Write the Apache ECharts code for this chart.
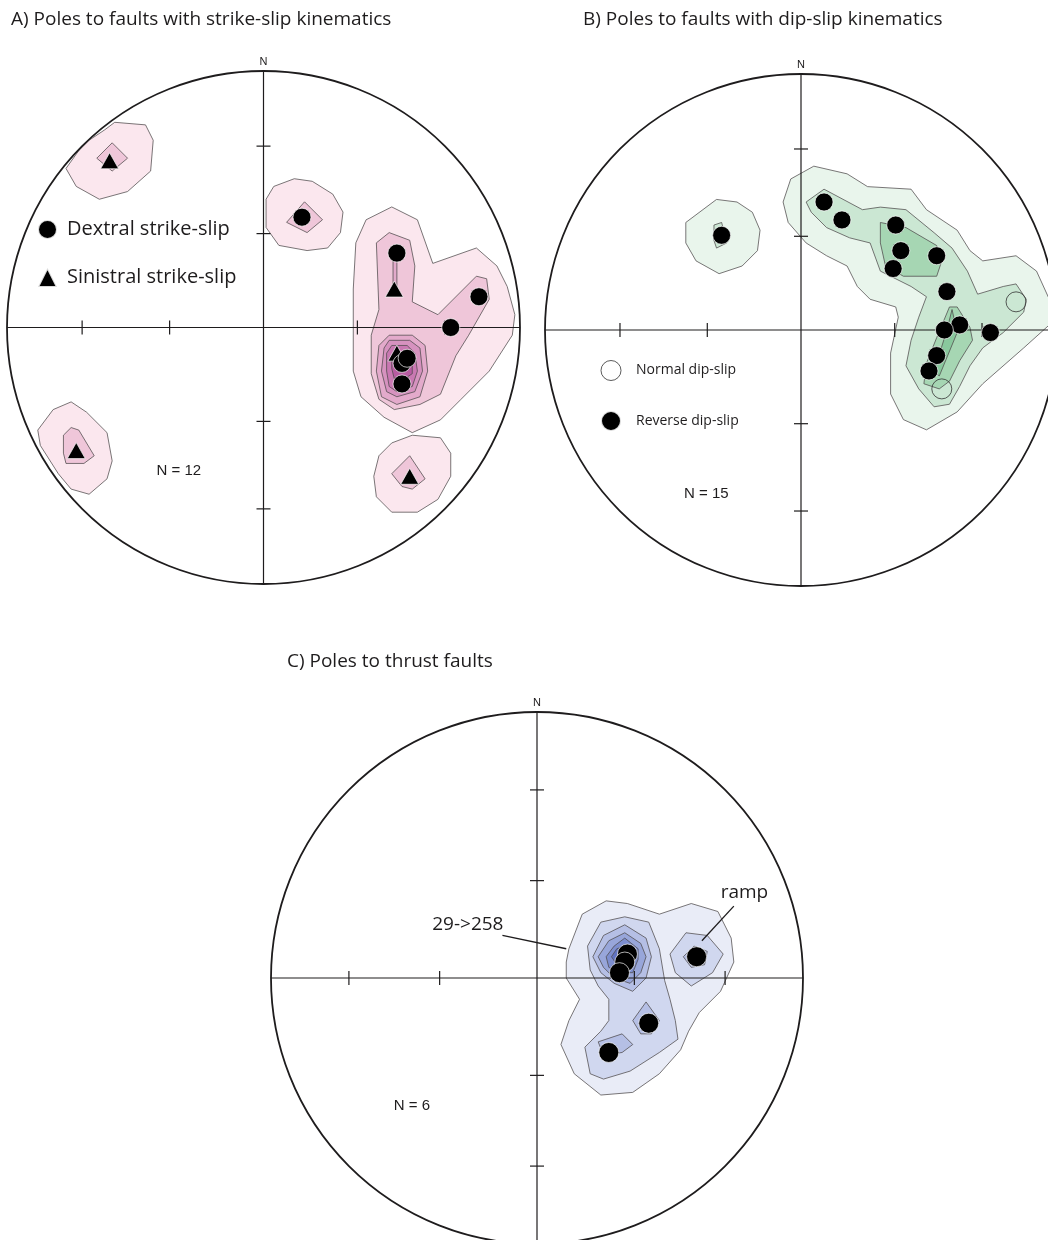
<!DOCTYPE html>
<html>
<head>
<meta charset="utf-8">
<title>Fault pole stereonets</title>
<script src="https://cdn.jsdelivr.net/npm/echarts@6.0.0/dist/echarts.min.js"></script>
<style>
  html, body { margin: 0; padding: 0; background: #ffffff; }
  #chart { width: 1048px; height: 1240px; }
</style>
</head>
<body>
<div id="chart"></div>
<script>
// Equal-area (Schmidt) lower-hemisphere nets. Every position is in net units:
// the primitive circle has radius 100, x to the east, y to the north.
const NET_R = 100;

// Plunges marked by ticks along the N-S and E-W diameters
const tickPlunges = [30, 60];

// ---- A) poles to strike-slip faults ----
const dextralA = [[15, 43], [52, 29], [84, 12], [73, 0], [54, -14], [56, -12], [54, -22]];
const sinistralA = [[-60, 65], [51, 15], [52, -10], [-73, -48], [57, -58]];

// density contours: [level, outline]
const contoursA = [
  [1, [[36,33],[40,42],[50,47],[60,42],[66,25],[83,31],[91,24],[95,16],[98,5],[97,-3],[88,-17],[77,-28],[69,-36],[58,-41],[47,-35],[38,-27],[35,-17],[35,-1],[35,15]]],
  [1, [[-58,80],[-46,79],[-43,73],[-44,61],[-53,53],[-64,50],[-73,55],[-77,62],[-72,69],[-68,73],[-62,77]]],
  [1, [[1,50],[4,55],[12,58],[19,57],[27,52],[31,45],[30,37],[25,31],[17,30],[6,32],[1,39]]],
  [1, [[-88,-40],[-82,-32],[-75,-29],[-69,-33],[-61,-41],[-59,-52],[-61,-59],[-68,-65],[-75,-63],[-80,-57],[-87,-46]]],
  [1, [[43,-58],[45,-50],[50,-45],[58,-42],[69,-43],[73,-49],[73,-58],[68,-67],[60,-72],[50,-72],[44,-66]]],
  [2, [[49,37],[57,34],[59,24],[58,10],[68,5],[83,20],[87,19],[88,11],[80,-3],[75,-11],[69,-26],[61,-30],[51,-32],[45,-28],[42,-18],[42,-3],[45,7],[44,33]]],
  [2, [[-65,66],[-59,72],[-53,66],[-59,61]]],
  [2, [[9,41],[16,49],[23,42],[17,37]]],
  [2, [[-78,-42],[-75,-39],[-72,-40],[-66,-50],[-70,-53],[-77,-53],[-78,-49]]],
  [2, [[50,-57],[57,-50],[63,-59],[58,-63],[54,-62]]],
  [3, [[50.5,27],[52,27],[52,15],[50.5,15]]],
  [3, [[49,-3],[58,-3],[63,-7],[64,-17],[61,-27],[52,-30],[46,-27],[44,-17],[45,-7]]],
  [4, [[49,-5],[57,-5],[61,-8],[62,-17],[59,-25],[52,-27],[48,-25],[46,-17],[47,-8]]],
  [5, [[50,-7],[56,-7],[59,-10],[60,-17],[58,-23],[52,-25],[49,-23],[48,-17],[48,-10]]],
  [6, [[51,-10],[56,-10],[58,-13],[58,-18],[55,-20],[51,-20],[50,-16],[50,-12]]]
];

// ---- B) poles to dip-slip faults ----
const reverseB = [[9,50],[16,43],[37,41],[39,31],[36,24],[53,29],[57,15],[62,2],[56,0],[74,-1],[53,-10],[50,-16],[-31,37]];
const normalB = [[84,11],[55,-23]];

const contoursB = [
  [1, [[-7,50],[-4,59],[5,64],[18,61],[26,56],[43,55],[49,47],[61,39],[66,31],[71,27],[84,29],[92,23],[97,12],[97,2],[87,-7],[71,-21],[61,-32],[49,-39],[40,-35],[35,-25],[35,-9],[38,5],[37,9],[27,12],[22,17],[18,25],[10,29],[2,34],[-5,42]]],
  [1, [[-45,42],[-33,51],[-25,50],[-19,46],[-16,39],[-17,31],[-23,25],[-32,22],[-41,27],[-45,34]]],
  [2, [[2,50],[9,55],[24,47],[31,48],[41,47],[52,38],[59,32],[65,23],[69,14],[79,17],[84,18],[88,12],[87,7],[79,-1],[71,-7],[66,-14],[62,-22],[58,-29],[52,-30],[46,-23],[41,-14],[43,-4],[46,5],[49,13],[43,17],[37,20],[31,23],[27,34],[19,36],[10,40],[4,46]]],
  [2, [[-34,41],[-31,42],[-29,34],[-33,32],[-34,35]]],
  [3, [[31,42],[41,40],[53,33],[55,27],[53,21],[40,21],[33,25],[31,34]]],
  [3, [[58,9],[61,9],[66,1],[67,-4],[62,-12],[58,-20],[54,-23],[48,-21],[49,-13],[53,-3]]],
  [4, [[59,8],[61,-1],[54,-18],[52,-16],[57,0]]]
];

// ---- C) poles to thrust faults ----
const thrustC = [[34,9],[33,6],[31,2],[60,8],[42,-17],[27,-28]];

const contoursC = [
  [1, [[12,11],[17,24],[26,29],[34,28],[46,24],[58,28],[68,25],[73,15],[74,6],[69,-5],[61,-13],[57,-20],[54,-27],[46,-36],[36,-43],[24,-44],[14,-36],[9,-25],[12,-16],[16,-8],[11,0],[11,6]]],
  [2, [[19,12],[24,21],[33,23],[42,21],[46,11],[48,-1],[50,-8],[52,-16],[53,-23],[46,-28],[35,-35],[25,-38],[20,-36],[18,-26],[24,-20],[27,-16],[27,-8],[23,-3],[20,3]]],
  [2, [[50,9],[56,17],[64,16],[70,9],[66,2],[58,-3],[52,2]]],
  [3, [[21,8],[25,16],[33,20],[41,15],[43,8],[41,0],[36,-5],[29,-2],[24,2]]],
  [3, [[55,8],[59,12],[64,10],[63,5],[58,4]]],
  [3, [[36,-16],[41,-9],[46,-16],[43,-21],[39,-21]]],
  [3, [[23,-24],[32,-21],[36,-25],[32,-28],[25,-29]]],
  [4, [[23,8],[27,14],[33,17],[39,13],[41,8],[39,2],[35,-2],[29,0],[25,4]]],
  [5, [[26,8],[29,12],[33,15],[38,11],[38,7],[36,2],[31,2],[27,4]]],
  [6, [[28,8],[30,11],[33,12],[36,10],[36,6],[34,4],[30,5]]]
];

// annotations on net C
const notesC = [['29->258', [-26, 20]], ['ramp', [78, 32]]];
const leadersC = [[[-13, 16], [11, 11]], [[74, 27], [62, 14]]];

const countLabels = ['N = 12', 'N = 15', 'N = 6'];
const countPositions = [[-33, -56], [-37, -64], [-47, -48]];

const titles = ['A) Poles to faults with strike-slip kinematics',
                'B) Poles to faults with dip-slip kinematics',
                'C) Poles to thrust faults'];

// contour fill ramps, lowest level first
const pinkLevels  = ['#fbe7ee', '#efc6d9', '#e3aacb', '#d692bf', '#c978b2', '#b85ca2'];
const greenLevels = ['#e9f5ec', '#cbe7d3', '#a6d6b3', '#89c89d'];
const blueLevels  = ['#e9ecf7', '#d0d7ef', '#b5bfe5', '#98a6da', '#7d8ecf', '#6173c2'];

const INK = '#1e1c1d';
const UI_FONT = '"Open Sans", "Noto Sans", sans-serif';
const SMALL_FONT = '"Liberation Sans", Arial, sans-serif';

// radial distance of a pole on the equal-area net
const eqArea = p => NET_R * Math.SQRT2 * Math.sin((90 - p) / 2 * Math.PI / 180);

// B runs off the right edge of the page and C off the bottom edge, so their
// grids stop at the page and the axis extent is trimmed to keep the scale.
const grids = [
  { left: 7,   top: 71,  width: 513, height: 513 },
  { left: 545, top: 74,  width: 503, height: 512 },
  { left: 271, top: 712, width: 532, height: 528 }
];
const xRanges = [[-100, 100], [-100, -100 + 503 / 2.56], [-100, 100]];
const yRanges = [[-100, 100], [-100, 100], [100 - 528 / 2.66, 100]];

function contourSeries(idx, polys, colors) {
  return {
    type: 'custom', name: 'contours' + idx,
    xAxisIndex: idx, yAxisIndex: idx,
    z: 2, silent: true, animation: false, clip: false,
    data: polys.map((p, i) => [p[1][0][0], p[1][0][1], i]),
    renderItem: (params, api) => {
      const poly = polys[params.dataIndex];
      return {
        type: 'polygon',
        shape: { points: poly[1].map(pt => api.coord(pt)) },
        style: { fill: colors[poly[0] - 1], stroke: '#4d4a4b', lineWidth: 0.75 }
      };
    }
  };
}

function frameSeries(idx, extra) {
  return {
    type: 'custom', name: 'net' + idx,
    xAxisIndex: idx, yAxisIndex: idx,
    z: 4, silent: true, animation: false, clip: false,
    data: [[0, 0]],
    renderItem: (params, api) => {
      const c = api.coord([0, 0]);
      const R = c[0] - api.coord([-NET_R, 0])[0];
      const lineStyle = { stroke: INK, lineWidth: 1.2 };
      const seg = (p, q) => {
        const a = api.coord(p), b = api.coord(q);
        return { type: 'line', shape: { x1: a[0], y1: a[1], x2: b[0], y2: b[1] }, style: lineStyle };
      };
      const kids = [
        { type: 'circle', shape: { cx: c[0], cy: c[1], r: R }, style: { fill: 'none', stroke: INK, lineWidth: 1.8 } },
        seg([-NET_R, 0], [NET_R, 0]),
        seg([0, -NET_R], [0, NET_R])
      ];
      const T = 7;
      tickPlunges.forEach(p => {
        const r = eqArea(p);
        [[r, 0], [-r, 0]].forEach(pt => {
          const q = api.coord(pt);
          kids.push({ type: 'line', shape: { x1: q[0], y1: q[1] - T, x2: q[0], y2: q[1] + T }, style: lineStyle });
        });
        [[0, r], [0, -r]].forEach(pt => {
          const q = api.coord(pt);
          kids.push({ type: 'line', shape: { x1: q[0] - T, y1: q[1], x2: q[0] + T, y2: q[1] }, style: lineStyle });
        });
      });
      // north mark
      const n = api.coord([0, NET_R]);
      kids.push({ type: 'text', x: n[0], y: n[1] - 4,
        style: { text: 'N', fill: INK, font: '11px ' + SMALL_FONT, align: 'center', verticalAlign: 'bottom', textAlign: 'center', textVerticalAlign: 'bottom' } });
      // sample count
      const cp = api.coord(countPositions[idx]);
      kids.push({ type: 'text', x: cp[0], y: cp[1],
        style: { text: countLabels[idx], fill: INK, font: '15px ' + SMALL_FONT, align: 'center', verticalAlign: 'middle', textAlign: 'center', textVerticalAlign: 'middle' } });
      if (extra) extra(api, kids);
      return { type: 'group', children: kids };
    }
  };
}

function notesForC(api, kids) {
  leadersC.forEach(s => {
    const a = api.coord(s[0]), b = api.coord(s[1]);
    kids.push({ type: 'line', shape: { x1: a[0], y1: a[1], x2: b[0], y2: b[1] }, style: { stroke: INK, lineWidth: 1.3 } });
  });
  notesC.forEach(([txt, at]) => {
    const q = api.coord(at);
    kids.push({ type: 'text', x: q[0], y: q[1],
      style: { text: txt, fill: INK, font: '19px ' + UI_FONT, align: 'center', verticalAlign: 'middle', textAlign: 'center', textVerticalAlign: 'middle' } });
  });
}

function pointSeries(idx, name, data, opts) {
  return Object.assign({
    type: 'scatter', name, data,
    xAxisIndex: idx, yAxisIndex: idx,
    z: 6, silent: true, animation: false, clip: false,
    symbol: 'circle', symbolSize: 18,
    itemStyle: { color: '#000', borderColor: 'rgba(255,255,255,0.85)', borderWidth: 0.8, opacity: 1 }
  }, opts || {});
}

const option = {
  backgroundColor: '#ffffff',
  animation: false,
  title: [
    { text: titles[0], left: 11, top: 10 },
    { text: titles[1], left: 583, top: 10 },
    { text: titles[2], left: 287, top: 652 }
  ].map(t => Object.assign(t, { padding: 0, textStyle: { fontFamily: UI_FONT, fontSize: 19, fontWeight: 'normal', color: INK } })),
  legend: [
    {
      data: [{ name: 'Dextral strike-slip', icon: 'circle' }, { name: 'Sinistral strike-slip', icon: 'triangle' }],
      orient: 'vertical', left: 37, top: 219, padding: 0,
      itemWidth: 19, itemHeight: 19, itemGap: 27, selectedMode: false,
      textStyle: { fontFamily: UI_FONT, fontSize: 20, lineHeight: 19, color: INK, padding: [0, 0, 0, 5] }
    },
    {
      data: [
        { name: 'Normal dip-slip', icon: 'circle', itemStyle: { color: '#ffffff', borderColor: '#333', borderWidth: 1 } },
        { name: 'Reverse dip-slip', icon: 'circle' }
      ],
      orient: 'vertical', left: 600, top: 360, padding: 0,
      itemWidth: 20, itemHeight: 20, itemGap: 29, selectedMode: false,
      textStyle: { fontFamily: UI_FONT, fontSize: 14, color: INK, padding: [0, 0, 0, 10] }
    }
  ],
  grid: grids,
  xAxis: grids.map((g, i) => ({ gridIndex: i, type: 'value', min: xRanges[i][0], max: xRanges[i][1], show: false })),
  yAxis: grids.map((g, i) => ({ gridIndex: i, type: 'value', min: yRanges[i][0], max: yRanges[i][1], show: false })),
  series: [
    contourSeries(0, contoursA, pinkLevels),
    contourSeries(1, contoursB, greenLevels),
    contourSeries(2, contoursC, blueLevels),
    frameSeries(0),
    frameSeries(1),
    frameSeries(2, notesForC),
    pointSeries(0, 'Sinistral strike-slip', sinistralA, { symbol: 'triangle', symbolSize: [18, 16], z: 5 }),
    pointSeries(0, 'Dextral strike-slip', dextralA),
    pointSeries(1, 'Reverse dip-slip', reverseB),
    pointSeries(1, 'Normal dip-slip', normalB, { symbolSize: 20, itemStyle: { color: 'rgba(0,0,0,0)', borderColor: '#333', borderWidth: 1 } }),
    pointSeries(2, 'Thrust faults', thrustC, { symbolSize: 20 })
  ]
};

const chart = echarts.init(document.getElementById('chart'), null, { renderer: 'canvas' });
chart.setOption(option);
</script>
</body>
</html>
